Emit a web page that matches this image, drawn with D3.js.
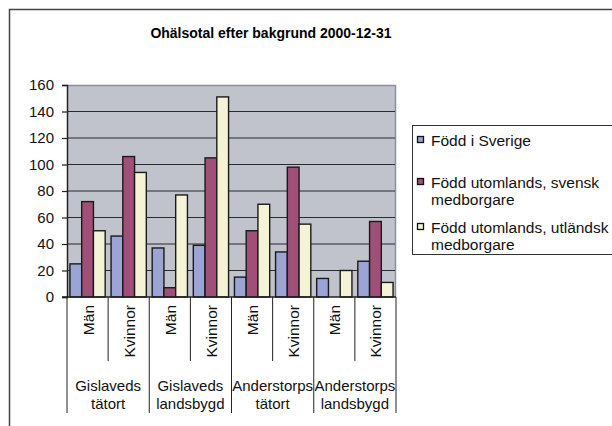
<!DOCTYPE html>
<html lang="sv">
<head>
<meta charset="utf-8">
<title>Ohälsotal efter bakgrund</title>
<style>
  body { margin: 0; background: #fff; }
  svg { display: block; font-family: "Liberation Sans", Arial, sans-serif; }
  .tick text { font-size: 15px; fill: #111; }
</style>
</head>
<body>
<svg width="612" height="426"></svg>
<script src="https://cdn.jsdelivr.net/npm/d3@7"></script>
<script>
// chart data
var groups = ["Gislaveds tätort", "Gislaveds landsbygd", "Anderstorps tätort", "Anderstorps landsbygd"];
var sexes = ["Män", "Kvinnor"];
var seriesNames = ["Född i Sverige", "Född utomlands, svensk medborgare", "Född utomlands, utländsk medborgare"];
var fodd_sverige = [25, 46, 37, 39, 15, 34, 14, 27];
var fodd_svensk = [72, 106, 7, 105, 50, 98, 0, 57];
var fodd_utlandsk = [50, 94, 77, 151, 70, 55, 20, 11];
var yTicks = [0, 20, 40, 60, 80, 100, 120, 140, 160];

var colors = ["#9aa5d5", "#a04f78", "#f4f3d6"];
var series = [fodd_sverige, fodd_svensk, fodd_utlandsk];

var svg = d3.select("svg");

// outer frame (runs off the right and bottom edges)
svg.append("rect")
  .attr("x", 9.5).attr("y", 9.5)
  .attr("width", 640).attr("height", 440)
  .attr("fill", "none").attr("stroke", "#444").attr("stroke-width", 1.5);

svg.append("text")
  .attr("x", 271).attr("y", 38)
  .attr("text-anchor", "middle")
  .style("font-size", "14px").style("font-weight", "bold")
  .text("Ohälsotal efter bakgrund 2000-12-31");

var plot = { left: 67, right: 396, top: 85, bottom: 297 };

// one slot per group/sex pair
var cats = [];
groups.forEach(function(g) {
  sexes.forEach(function(s) { cats.push(g + "|" + s); });
});

var x = d3.scaleBand().domain(cats).range([plot.left, plot.right]).paddingInner(0).paddingOuter(0);
var xs = d3.scaleBand().domain(d3.range(3)).range([0, x.bandwidth()]).paddingInner(0).paddingOuter(0.25);
var y = d3.scaleLinear().domain([0, 160]).range([plot.bottom, plot.top]);

// plot background
svg.append("rect")
  .attr("x", plot.left).attr("y", plot.top)
  .attr("width", plot.right - plot.left).attr("height", plot.bottom - plot.top)
  .attr("fill", "#c0c3cc");
svg.append("path")
  .attr("d", "M" + plot.left + "," + (plot.top + 0.5) + "H" + (plot.right - 0.5) + "V" + plot.bottom)
  .attr("fill", "none").attr("stroke", "#8a9095").attr("stroke-width", 1.5);

// gridlines
svg.append("g").selectAll("line")
  .data(yTicks.filter(function(t) { return t > 0 && t < 160; }))
  .enter().append("line")
  .attr("x1", plot.left).attr("x2", plot.right - 1)
  .attr("y1", function(d) { return y(d); }).attr("y2", function(d) { return y(d); })
  .attr("stroke", "#2b2b2b").attr("stroke-width", 1.2);

// bars
var barData = [];
cats.forEach(function(c, i) {
  series.forEach(function(s, k) {
    barData.push({ cat: c, k: k, v: s[i] });
  });
});
svg.append("g").selectAll("rect")
  .data(barData.filter(function(d) { return d.v > 0; }))
  .enter().append("rect")
  .attr("x", function(d) { return x(d.cat) + xs(d.k); })
  .attr("y", function(d) { return y(d.v); })
  .attr("width", xs.bandwidth())
  .attr("height", function(d) { return plot.bottom - y(d.v); })
  .attr("fill", function(d) { return colors[d.k]; })
  .attr("stroke", "#1a1a1a").attr("stroke-width", 1.4);

// y axis
var yAxis = svg.append("g")
  .attr("transform", "translate(" + plot.left + ",0)")
  .call(d3.axisLeft(y).tickValues(yTicks).tickSize(5).tickPadding(8));
yAxis.select(".domain").attr("stroke", "#222").attr("stroke-width", 1.5);
yAxis.selectAll(".tick line").attr("stroke", "#222").attr("stroke-width", 1.2);

// x axis line
svg.append("line")
  .attr("x1", plot.left - 5).attr("x2", plot.right)
  .attr("y1", plot.bottom).attr("y2", plot.bottom)
  .attr("stroke", "#222").attr("stroke-width", 1.5);

// category separators: short between sexes, long between groups
var bounds = cats.map(function(c) { return x(c); }).concat([plot.right]);
svg.append("g").selectAll("line")
  .data(bounds)
  .enter().append("line")
  .attr("x1", function(d) { return d; }).attr("x2", function(d) { return d; })
  .attr("y1", plot.bottom)
  .attr("y2", function(d, i) { return i % 2 === 0 ? 413 : 361; })
  .attr("stroke", "#222").attr("stroke-width", 1);

// sex labels (rotated)
svg.append("g").selectAll("text")
  .data(cats)
  .enter().append("text")
  .attr("transform", function(c) {
    return "translate(" + (x(c) + x.bandwidth() / 2 + 6) + ",305) rotate(-90)";
  })
  .attr("text-anchor", "end")
  .style("font-size", "15.5px").attr("fill", "#111")
  .text(function(c) { return c.split("|")[1]; });

// group labels, two lines
var gl = svg.append("g").selectAll("text")
  .data(groups)
  .enter().append("text")
  .attr("text-anchor", "middle")
  .style("font-size", "15px").attr("fill", "#111");
gl.each(function(g, i) {
  var cx = x(groups[i] + "|Män") + x.bandwidth();
  var words = g.split(" ");
  d3.select(this).selectAll("tspan")
    .data(words).enter().append("tspan")
    .attr("x", cx)
    .attr("y", function(w, j) { return 391 + j * 18; })
    .text(function(w) { return w; });
});

// legend
var legend = svg.append("g");
legend.append("rect")
  .attr("x", 412.5).attr("y", 125.5).attr("width", 240).attr("height", 129)
  .attr("fill", "#fff").attr("stroke", "#333").attr("stroke-width", 1);
var legendLines = [["Född i Sverige"], ["Född utomlands, svensk", "medborgare"], ["Född utomlands, utländsk", "medborgare"]];
var legendY = [146, 188, 233];
legendLines.forEach(function(lines, k) {
  legend.append("rect")
    .attr("x", 417.5).attr("y", legendY[k] - 9.5).attr("width", 6).attr("height", 6)
    .attr("fill", colors[k]).attr("stroke", "#111").attr("stroke-width", 1.3);
  var t = legend.append("text")
    .style("font-size", "15.5px").attr("fill", "#111");
  lines.forEach(function(line, j) {
    t.append("tspan").attr("x", 431).attr("y", legendY[k] + j * 17).text(line);
  });
});
</script>
</body>
</html>
